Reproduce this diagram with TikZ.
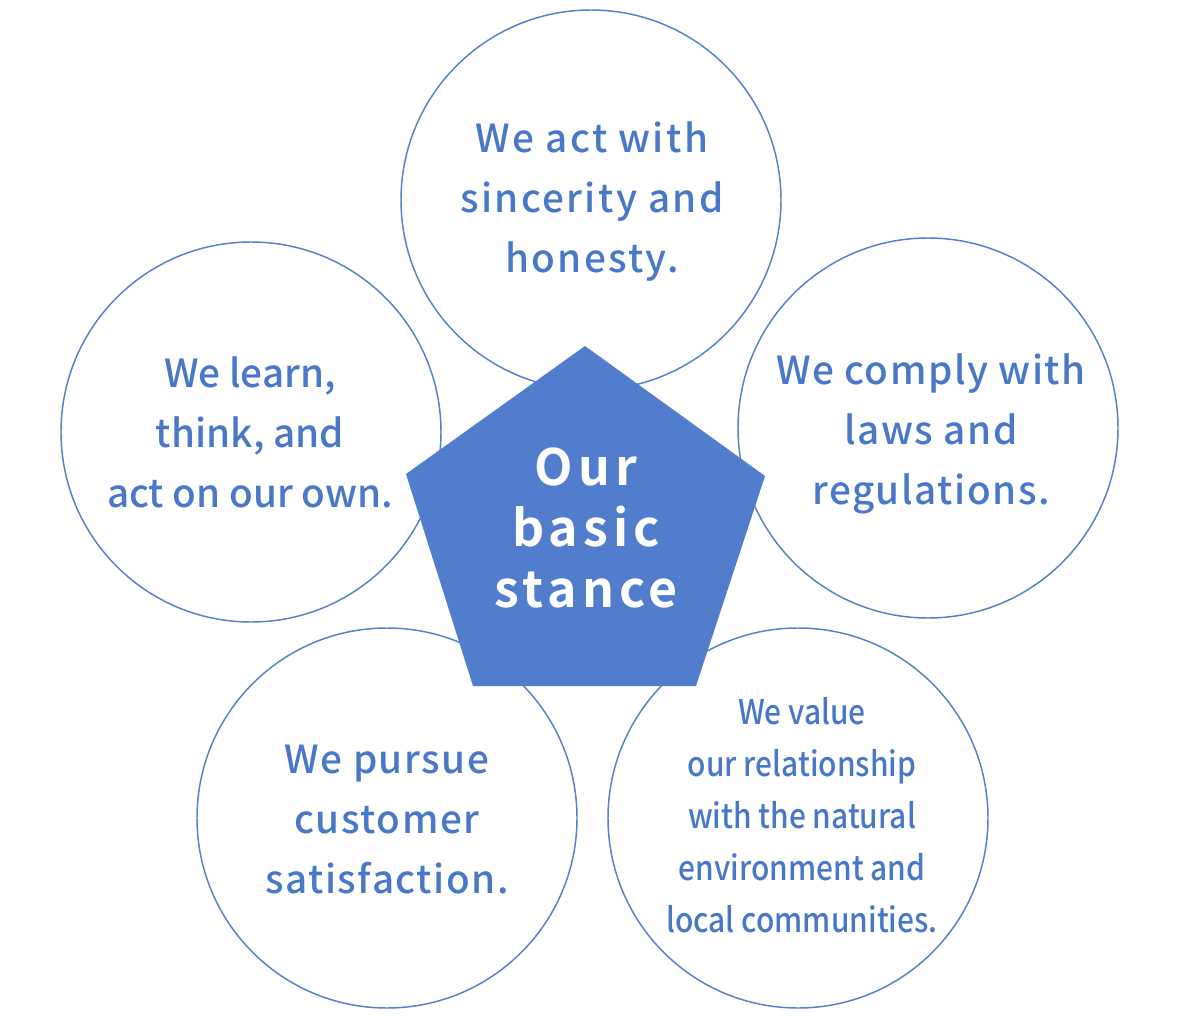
\documentclass[tikz,border=0pt]{standalone}
\usepackage{fontspec}
\setmainfont{Noto Sans CJK JP}
\newfontfamily\topfont[LetterSpace=6]{Noto Sans CJK JP Medium}
\newfontfamily\midfont[LetterSpace=4]{Noto Sans CJK JP Medium}
\newfontfamily\leftfont[LetterSpace=0]{Noto Sans CJK JP Medium}
\newfontfamily\condfont[FakeStretch=0.88]{Noto Sans CJK JP Medium}
\newfontfamily\boldfont[LetterSpace=10]{Noto Sans CJK JP Bold}
\definecolor{pent}{HTML}{527DCD}
\definecolor{ring}{HTML}{5580CC}
\definecolor{txt}{HTML}{4A78C8}
\begin{document}
\begin{tikzpicture}[x=0.75pt,y=-0.75pt,
  ringc/.style={draw=ring,line width=1.1pt,fill=white,circle,minimum size=285pt,inner sep=0pt},
  ctext/.style={text=txt,align=center},
  csize/.style={font=#1\fontsize{29}{45}\selectfont},
  ntext/.style={text=txt,align=center,font=\condfont\fontsize{25.5}{39}\selectfont},
  mtext/.style={text=white,align=center,font=\boldfont\fontsize{37.5}{45.5}\selectfont}]
\useasboundingbox (0,0) rectangle (1200,1020);
\node[ringc] (ct) at (591,200) {};
\node[ringc] (cl) at (251,432) {};
\node[ringc] (cr) at (928,428) {};
\node[ringc] (cbl) at (387,818) {};
\node[ringc] (cbr) at (798,818) {};
\coordinate (p1) at (585,346);
\coordinate (p2) at (765,476);
\coordinate (p3) at (696,686);
\coordinate (p4) at (473,686);
\coordinate (p5) at (406,474);
\fill[pent] (p1) -- (p2) -- (p3) -- (p4) -- (p5) -- cycle;
\node[ctext,csize=\topfont] (tt) at (592,202) {We act with\\sincerity and\\honesty.};
\node[ctext,csize=\leftfont] (tl) at (250,432) {We learn,\\think, and\\act on our own.};
\node[ctext,csize=\midfont] (tr) at (931,434) {We comply with\\laws and\\regulations.};
\node[ctext,csize=\midfont] (tbl) at (387,820) {We pursue\\customer\\satisfaction.};
\node[ntext] (tbr) at (802,815) {We value\\our relationship\\with the natural\\environment and\\local communities.};
\node[mtext] (tm) at (586,528) {Our\\basic\\stance};
\end{tikzpicture}
\end{document}
